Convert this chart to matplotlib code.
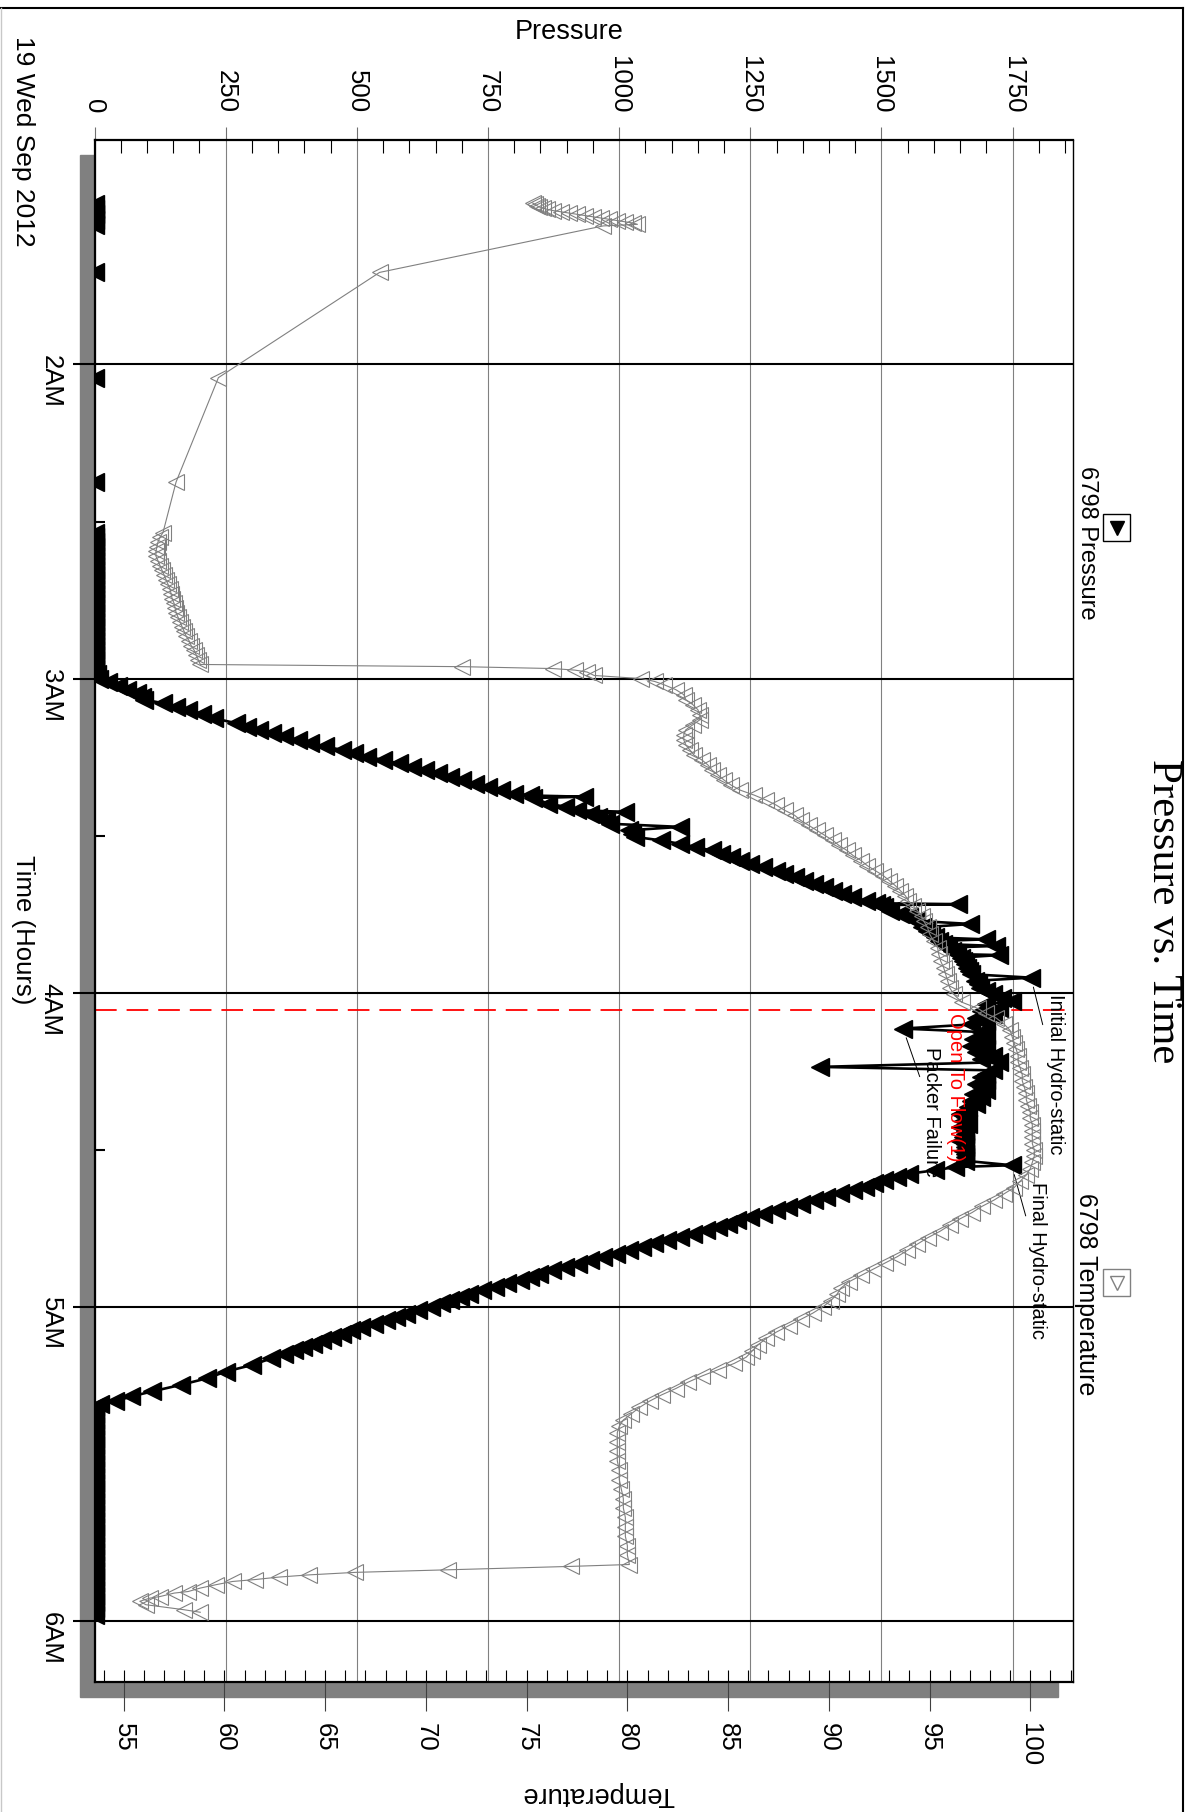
import matplotlib.pyplot as plt
from matplotlib.patches import Rectangle
from matplotlib.lines import Line2D

plt.rcParams['font.family'] = ['Liberation Sans', 'DejaVu Sans']

# ---- data: (hour of day, value), 19 Sep 2012 ----
pressure_idle = [
    (1.490, 0), (1.505, 0), (1.520, 0), (1.540, 0), (1.555, 0), (1.707, 0), (2.042, 0), (2.374, 0),
    (2.535, 0), (2.550, 0), (2.565, 0), (2.580, 0), (2.595, 0), (2.610, 0), (2.625, 0), (2.640, 0),
    (2.655, 0), (2.670, 0), (2.685, 0), (2.700, 0), (2.715, 0), (2.730, 0), (2.745, 0), (2.760, 0),
    (2.775, 0), (2.790, 0), (2.805, 0), (2.820, 0), (2.835, 0), (2.850, 0), (2.865, 0), (2.880, 0),
    (2.895, 0), (2.910, 0), (2.925, 0), (2.940, 0), (2.955, 0), (2.970, 0), (2.985, 4),
]
pressure_run_in = [
    (3.000, 9), (3.012, 25), (3.024, 45), (3.035, 62), (3.046, 81), (3.057, 90), (3.067, 94),
    (3.078, 130), (3.089, 155), (3.099, 179), (3.112, 205), (3.126, 227), (3.142, 270), (3.153, 290),
    (3.163, 313), (3.174, 338), (3.184, 361), (3.195, 388), (3.206, 410), (3.216, 440), (3.227, 471),
    (3.238, 495), (3.248, 519), (3.259, 550), (3.270, 580), (3.280, 605), (3.291, 629), (3.302, 655),
    (3.312, 678), (3.323, 700), (3.334, 726), (3.344, 750), (3.355, 775), (3.366, 800), (3.372, 830),
    (3.376, 933), (3.380, 836), (3.398, 865), (3.408, 897), (3.419, 920), (3.424, 1012), (3.430, 945),
    (3.441, 960), (3.451, 975), (3.462, 982), (3.472, 1116), (3.483, 1018), (3.494, 1025), (3.504, 1030),
    (3.515, 1080), (3.526, 1116), (3.536, 1145), (3.547, 1176), (3.558, 1195), (3.568, 1213),
    (3.579, 1230), (3.590, 1249), (3.600, 1275), (3.611, 1298), (3.622, 1315), (3.632, 1335),
    (3.643, 1352), (3.654, 1371), (3.664, 1390), (3.675, 1407), (3.686, 1425), (3.696, 1444),
    (3.707, 1470), (3.715, 1490), (3.718, 1645), (3.721, 1500), (3.728, 1505), (3.739, 1517),
    (3.750, 1535), (3.760, 1553), (3.771, 1565), (3.781, 1669), (3.792, 1578), (3.803, 1586),
    (3.813, 1594), (3.824, 1602), (3.830, 1699), (3.835, 1610), (3.845, 1618), (3.851, 1718),
    (3.856, 1627), (3.867, 1635), (3.877, 1643), (3.880, 1724), (3.888, 1651), (3.899, 1655),
    (3.909, 1660), (3.920, 1663), (3.930, 1667), (3.941, 1671), (3.952, 1785), (3.962, 1679),
    (3.973, 1683), (3.984, 1687), (3.994, 1700),
]
pressure_on_bottom = [
    (4.005, 1712), (4.016, 1730), (4.026, 1748), (4.037, 1700), (4.048, 1724), (4.058, 1690),
    (4.069, 1712), (4.080, 1680), (4.090, 1700), (4.101, 1670), (4.114, 1541), (4.125, 1690),
    (4.136, 1700), (4.146, 1675), (4.157, 1690), (4.168, 1670), (4.178, 1700), (4.189, 1680),
    (4.200, 1712), (4.211, 1690), (4.221, 1724), (4.236, 1383), (4.247, 1712), (4.258, 1700),
    (4.268, 1690), (4.279, 1700), (4.290, 1680), (4.300, 1690), (4.311, 1700), (4.322, 1675),
    (4.332, 1690), (4.343, 1670), (4.354, 1680), (4.364, 1665), (4.375, 1660), (4.386, 1650),
    (4.396, 1660), (4.407, 1655), (4.418, 1665), (4.428, 1650), (4.439, 1660), (4.450, 1660),
    (4.460, 1655), (4.471, 1650), (4.482, 1660), (4.492, 1660), (4.503, 1655), (4.514, 1660),
    (4.524, 1660), (4.535, 1660), (4.549, 1748), (4.555, 1640),
]
pressure_pull_out = [
    (4.565, 1602), (4.576, 1553), (4.586, 1530), (4.597, 1505), (4.607, 1485), (4.618, 1468),
    (4.628, 1445), (4.639, 1420), (4.650, 1395), (4.661, 1371), (4.671, 1346), (4.682, 1322),
    (4.692, 1298), (4.703, 1274), (4.713, 1250), (4.724, 1225), (4.735, 1207), (4.745, 1189),
    (4.756, 1165), (4.767, 1140), (4.777, 1115), (4.788, 1091), (4.798, 1067), (4.809, 1043),
    (4.819, 1018), (4.830, 994), (4.841, 970), (4.851, 945), (4.862, 921), (4.873, 897),
    (4.883, 872), (4.894, 848), (4.904, 830), (4.915, 811), (4.925, 787), (4.936, 763),
    (4.947, 738), (4.958, 714), (4.968, 696), (4.979, 678), (4.989, 660), (5.000, 641),
    (5.011, 617), (5.021, 593), (5.032, 575), (5.042, 556), (5.053, 532), (5.064, 507),
    (5.074, 489), (5.085, 471), (5.096, 452), (5.106, 434), (5.117, 416), (5.127, 398),
    (5.138, 380), (5.149, 361), (5.164, 337), (5.185, 300), (5.206, 250), (5.227, 215),
    (5.248, 165), (5.269, 110), (5.285, 70), (5.300, 40), (5.310, 10),
]
pressure_surface = [
    (5.320, 0), (5.340, 0), (5.360, 0), (5.380, 0), (5.400, 0), (5.420, 0), (5.440, 0), (5.460, 0),
    (5.480, 0), (5.500, 0), (5.520, 0), (5.540, 0), (5.560, 0), (5.580, 0), (5.600, 0), (5.620, 0),
    (5.640, 0), (5.660, 0), (5.680, 0), (5.700, 0), (5.720, 0), (5.740, 0), (5.760, 0), (5.780, 0),
    (5.800, 0), (5.820, 0), (5.840, 0), (5.860, 0), (5.880, 0), (5.900, 0), (5.920, 0), (5.940, 0),
    (5.960, 0), (5.980, 0),
]

temperature_start = [
    (1.486, 75.3), (1.490, 75.4), (1.494, 75.5), (1.498, 75.6), (1.502, 75.8), (1.506, 76.0),
    (1.510, 76.3), (1.514, 76.7), (1.518, 77.1), (1.522, 77.5), (1.526, 77.9), (1.530, 78.3),
    (1.534, 78.7), (1.538, 79.1), (1.542, 79.5), (1.546, 79.9), (1.550, 80.3), (1.554, 80.5),
    (1.559, 78.8), (1.707, 67.7), (2.042, 59.7), (2.374, 57.6),
    (2.535, 56.95), (2.550, 56.8), (2.565, 56.7), (2.580, 56.65), (2.595, 56.6), (2.610, 56.6),
    (2.625, 56.7), (2.640, 56.8), (2.655, 56.9), (2.670, 57.0), (2.685, 57.1), (2.700, 57.2),
    (2.715, 57.3), (2.730, 57.35), (2.745, 57.4), (2.760, 57.5), (2.775, 57.55), (2.790, 57.6),
    (2.805, 57.7), (2.820, 57.8), (2.835, 57.9), (2.850, 58.0), (2.865, 58.1), (2.880, 58.25),
    (2.895, 58.35), (2.910, 58.5), (2.925, 58.6), (2.940, 58.7), (2.955, 58.8),
]
temperature_run_in = [
    (2.962, 71.8), (2.968, 76.3), (2.973, 77.4), (2.979, 78.0), (2.990, 78.35), (3.000, 80.7),
    (3.009, 81.35), (3.019, 81.8), (3.035, 82.4), (3.051, 82.8), (3.067, 82.9), (3.083, 83.25),
    (3.099, 83.5), (3.115, 83.6), (3.131, 83.6), (3.147, 83.25), (3.163, 82.9), (3.179, 82.8),
    (3.195, 82.8), (3.211, 82.9), (3.227, 83.1), (3.243, 83.3), (3.259, 83.7), (3.275, 84.0),
    (3.291, 84.2), (3.307, 84.5), (3.323, 84.8), (3.339, 85.15), (3.355, 85.6), (3.371, 86.3),
    (3.387, 86.9), (3.403, 87.4), (3.419, 87.8), (3.435, 88.3), (3.451, 88.6), (3.467, 89.0),
    (3.483, 89.4), (3.499, 89.8), (3.515, 90.2), (3.531, 90.5), (3.547, 90.9), (3.563, 91.2),
    (3.579, 91.6), (3.595, 91.9), (3.611, 92.3), (3.627, 92.7), (3.643, 93.0), (3.659, 93.3),
    (3.675, 93.55), (3.691, 93.8), (3.707, 93.95), (3.723, 94.2), (3.739, 94.4), (3.755, 94.6),
    (3.771, 94.7), (3.792, 94.9), (3.813, 95.0), (3.835, 95.2), (3.856, 95.4), (3.877, 95.45),
    (3.899, 95.55), (3.920, 95.7), (3.941, 95.8), (3.963, 95.9), (3.984, 96.0), (4.005, 96.2),
]
temperature_on_bottom = [
    (4.030, 96.6), (4.050, 97.4), (4.066, 97.8), (4.080, 98.3), (4.100, 98.7), (4.120, 99.0),
    (4.140, 99.1), (4.160, 99.2), (4.180, 99.3), (4.200, 99.4), (4.220, 99.4), (4.240, 99.5),
    (4.260, 99.6), (4.280, 99.6), (4.300, 99.7), (4.320, 99.8), (4.340, 99.8), (4.360, 99.9),
    (4.380, 100.0), (4.400, 100.0), (4.420, 100.1), (4.440, 100.1), (4.460, 100.1), (4.480, 100.1),
    (4.500, 100.2), (4.520, 100.2), (4.540, 100.1), (4.560, 100.0),
]
temperature_pull_out = [
    (4.580, 99.8), (4.600, 99.5), (4.620, 99.2), (4.640, 98.7), (4.660, 98.2), (4.680, 97.6),
    (4.700, 97.1), (4.720, 96.5), (4.740, 96.0), (4.760, 95.5), (4.780, 94.9), (4.800, 94.4),
    (4.820, 93.9), (4.840, 93.4), (4.860, 92.8), (4.880, 92.2), (4.900, 91.6), (4.920, 91.0),
    (4.940, 90.6), (4.960, 90.4), (4.980, 90.1), (5.000, 89.7), (5.020, 89.2), (5.040, 88.6),
    (5.060, 88.0), (5.080, 87.4), (5.100, 86.9), (5.120, 86.5), (5.140, 86.2), (5.160, 85.9),
    (5.180, 85.3), (5.200, 84.5), (5.220, 83.7), (5.240, 83.0), (5.260, 82.4), (5.280, 81.7),
    (5.300, 81.1), (5.320, 80.6), (5.340, 80.2), (5.360, 79.8), (5.380, 79.6), (5.400, 79.5),
    (5.430, 79.5), (5.460, 79.5), (5.490, 79.5), (5.520, 79.6), (5.550, 79.6), (5.580, 79.7),
    (5.610, 79.8), (5.640, 79.8), (5.670, 79.9), (5.700, 79.9), (5.730, 79.9), (5.760, 80.0),
    (5.790, 80.0), (5.820, 80.1),
]
temperature_surface = [
    (5.826, 77.2), (5.837, 71.1), (5.845, 66.5), (5.853, 64.2), (5.860, 62.7), (5.868, 61.5),
    (5.874, 60.4), (5.884, 59.6), (5.895, 58.8), (5.906, 58.2), (5.911, 57.5), (5.922, 56.8),
    (5.927, 56.3), (5.937, 55.8), (5.948, 56.1), (5.964, 58.0), (5.972, 58.8),
]

pressure = pressure_idle + pressure_run_in + pressure_on_bottom + pressure_pull_out + pressure_surface
temperature = (temperature_start + temperature_run_in + temperature_on_bottom
               + temperature_pull_out + temperature_surface)
pres_hours = [h for h, v in pressure]
pres_psi = [v for h, v in pressure]
temp_hours = [h for h, v in temperature]
temp_deg = [v for h, v in temperature]

hour_ticks = [2, 3, 4, 5, 6]
hour_labels = ['2AM', '3AM', '4AM', '5AM', '6AM']
half_hour_ticks = [1.5, 2.5, 3.5, 4.5, 5.5]
pres_ticks = [0, 250, 500, 750, 1000, 1250, 1500, 1750]
temp_ticks = [55, 60, 65, 70, 75, 80, 85, 90, 95, 100]

open_to_flow_hour = 4.055
# (label, hour, psi of the marked reading, text centre in pixels)
events = [
    ('Initial Hydro-static', 3.952, 1785, (1055, 1074)),
    ('Final Hydro-static', 4.549, 1748, (1038, 1260)),
    ('Packer Failure', 4.114, 1541, (932, 1112)),
]

# ---- figure (drawn already turned a quarter turn, like the original) ----
W, H = 1197, 1812
fig = plt.figure(figsize=(W / 100, H / 100), dpi=100)
L, R, T, B = 94.5, 1073, 140, 1682

def fx(px):
    return px / W

def fy(py):
    return 1 - py / H

ax = fig.add_axes([fx(L), fy(B), fx(R) - fx(L), fy(T) - fy(B)])
fig.add_artist(Rectangle((fx(L - 15), fy(B + 15)), fx(R) - fx(L), fy(T) - fy(B),
                         transform=fig.transFigure, color='#808080', zorder=-1))

ax2 = ax.twiny()
ax.xaxis.tick_top()

ax.set_xlim(0, 1865)
ax.set_ylim(6.194, 1.2855)
ax2.set_xlim(53.55, 102.12)

# pressure axis (top)
ax.set_xticks(pres_ticks)
ax.set_xticks(range(0, 1851, 50), minor=True)
ax.tick_params(axis='x', which='major', direction='out', length=9.4, width=0.8, color='#707070',
               labelsize=18.5, labelrotation=-90, pad=10)
ax.tick_params(axis='x', which='minor', direction='in', length=9.4, width=0.8, color='black')
ax.grid(axis='x', which='major', color='#808080', lw=0.8)

# time axis (left)
ax.set_yticks(hour_ticks, hour_labels)
ax.set_yticks(half_hour_ticks, minor=True)
ax.tick_params(axis='y', which='major', direction='out', length=15.8, width=1.5, color='black',
               labelsize=18.5, labelrotation=-90, pad=7)
ax.tick_params(axis='y', which='minor', direction='in', length=7, width=1.5, color='black')
ax.grid(axis='y', which='major', color='black', lw=1.5)
ax.set_axisbelow(True)

for side, lw in [('top', 1.6), ('left', 1.6), ('bottom', 1.6), ('right', 1.0)]:
    ax.spines[side].set_linewidth(lw)
    ax.spines[side].set_color('black')

# temperature axis (bottom)
ax2.xaxis.tick_bottom()
ax2.set_xticks(temp_ticks)
ax2.set_xticks(range(54, 103), minor=True)
ax2.xaxis.remove_overlapping_locs = False
ax2.tick_params(axis='x', which='major', direction='out', length=20.9, width=0.8, color='#404040',
                labelsize=18.5, labelrotation=-90, pad=8.6)
ax2.tick_params(axis='x', which='minor', direction='in', length=8.6, width=0.8, color='black')
for s in ax2.spines.values():
    s.set_visible(False)

# series
ax.plot(pres_psi, pres_hours, color='black', lw=1.9, marker='<', ms=13.5,
        mfc='black', mec='black', zorder=3)
ax2.plot(temp_deg, temp_hours, color='#808080', lw=0.8, marker='<', ms=11,
         mfc='none', mec='#808080', mew=0.8)

# events
ax.axhline(open_to_flow_hour, color='red', lw=1.3, ls=(0, (12, 5.5)), zorder=2)
fig.text(fx(955), fy(1087), 'Open To Flow(1)', rotation=-90, ha='center', va='center',
         fontsize=14.5, color='red', zorder=2)
for label, hr, psi, (tx, ty) in events:
    ax.annotate(label, xy=(psi, hr), xytext=(tx, H - ty), textcoords='figure pixels',
                rotation=-90, ha='center', va='center', fontsize=14.5, zorder=2.5,
                arrowprops=dict(arrowstyle='-', lw=0.7, color='black', shrinkA=0, shrinkB=7))

# titles and axis captions
fig.text(fx(1163), fy(911), 'Pressure vs. Time', rotation=-90, ha='center', va='center',
         fontsize=31, family=['Liberation Serif', 'DejaVu Serif'])
fig.text(fx(569), fy(32), 'Pressure', ha='center', va='center', fontsize=19.5)
fig.text(fx(598), fy(1794), 'Temperature', rotation=180, ha='center', va='center', fontsize=19.5)
fig.text(fx(23), fy(930), 'Time (Hours)', rotation=-90, ha='center', va='center', fontsize=18.5)
fig.text(fx(23), fy(36), '19 Wed Sep 2012', rotation=-90, ha='center', va='top', fontsize=19)

# legend entries
fig.add_artist(Rectangle((fx(1103), fy(541)), fx(27), 27 / H, transform=fig.transFigure,
                         facecolor='white', edgecolor='black', lw=1))
fig.add_artist(Line2D([fx(1116.5)], [fy(527.5)], marker='v', ms=10, color='black',
                      transform=fig.transFigure))
fig.text(fx(1087), fy(543), '6798 Pressure', rotation=-90, ha='center', va='center', fontsize=17)
fig.add_artist(Rectangle((fx(1103), fy(1296)), fx(27), 27 / H, transform=fig.transFigure,
                         facecolor='white', edgecolor='#808080', lw=1))
fig.add_artist(Line2D([fx(1116.5)], [fy(1282.5)], marker='v', ms=10, mfc='none', mec='#808080',
                      transform=fig.transFigure))
fig.text(fx(1086), fy(1294), '6798 Temperature', rotation=-90, ha='center', va='center',
         fontsize=18)

# page frame
fig.add_artist(Line2D([0, fx(1183)], [fy(8), fy(8)], color='black', lw=1.5, transform=fig.transFigure))
fig.add_artist(Line2D([fx(1183), fx(1183)], [fy(8), 0], color='black', lw=1.5, transform=fig.transFigure))
fig.add_artist(Line2D([fx(0.6), fx(0.6)], [fy(8), 0], color='#c8c8c8', lw=1, transform=fig.transFigure))

fig.savefig('out.png', dpi=100, facecolor='white')
